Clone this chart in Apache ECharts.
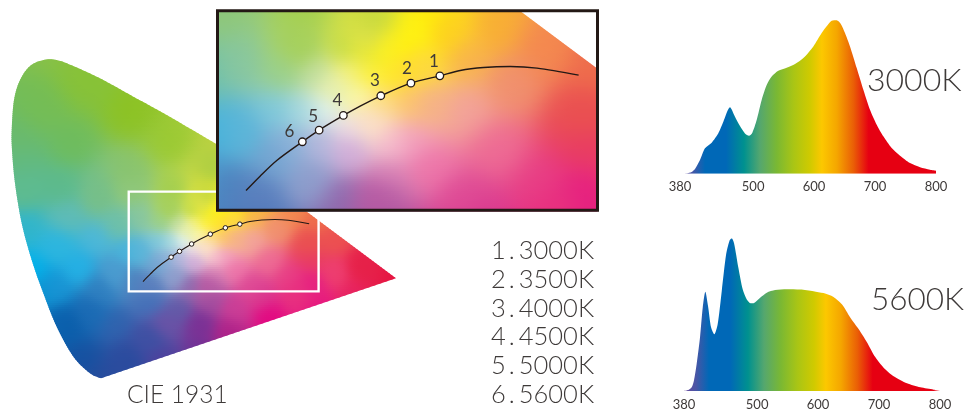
<!DOCTYPE html>
<html><head><meta charset="utf-8">
<style>html,body{margin:0;padding:0;background:#fff}#c{width:977px;height:411px}</style>
<script src="https://cdn.jsdelivr.net/npm/echarts@6/dist/echarts.min.js"></script>
</head><body><div id="c"></div>
<script>
// CIE 1931 gamut boundary (chromaticity x, y)
const gamutX=[.1718,.1508,.1190,.0871,.0617,.0394,.0204,.0076,.0019,.0013,.0057,.0172,.0363,.0617,.0871,.1190,.1698,.2335,.2971,.3893,.7347];
const gamutY=[.0069,.0198,.0627,.1400,.2259,.3119,.4064,.5095,.5954,.6469,.7242,.7758,.8119,.8273,.8273,.8119,.7801,.7328,.6856,.6125,.2646];
// Planckian curve
const curveX=[.2519,.2653,.2812,.3056,.3216,.3448,.3607,.3804,.4090,.4367,.4561,.4784,.5038,.5293,.5690];
const curveY=[.2564,.2749,.2951,.3192,.3342,.3531,.3651,.3784,.3948,.4042,.4111,.4149,.4162,.4141,.4051];
// CCT markers
const cctX=[.4367,.4091,.3804,.3447,.3216,.3056];
const cctY=[.4042,.3947,.3785,.3531,.3341,.3192];
const cctNames=['1','2','3','4','5','6'];
const cctLabelOffsets=[[-6,-14],[-4,-15],[-6,-15],[-6,-15],[-6,-14],[-13,-10]];
const cctLegend=[['1','3000K'],['2','3500K'],['3','4000K'],['4','4500K'],['5','5000K'],['6','5600K']];
// zoom window in chromaticity
const windowX=[.2247,.587];
const windowY=[.231,.488];
// spectra
const specTicks=[380,500,600,700,800];
const warmNm=[380,390.9,399.1,404.6,412.8,421,432,442.9,451.1,462,470.2,478.4,486.6,493.2,498.7,505.8,514,522.2,530.4,541.3,555,568.7,582.4,598.8,612.4,620.6,628.8,637,643.6,650.7,658.9,669.9,680.8,691.7,702.7,713.6,727.3,741,757.4,773.8,790.2,800];
const warmVal=[0,.2,1.1,3,8.9,16.5,20.2,26.3,33.8,43.2,37.1,31,26.2,24.7,26.7,34.9,48,57.7,63.2,66.9,68.9,71.3,75.2,82.8,91.5,95.9,99.5,99.8,97.6,91.5,82.8,68.7,54.6,41.6,31.9,24.3,16.7,11.7,6.9,4.2,2.6,2];
const coolNm=[380,387.1,392.6,396.4,400.8,406.3,410.7,415,419.4,424.4,429.8,435.3,441.9,449,454.5,458.3,462.1,469.3,476.4,483,489.5,495,504.9,515.8,529.5,548.7,570.6,592.5,608.9,625.3,639,652.7,666.4,680.1,693.8,707.5,723.9,745.8,767.7,789.6,800];
const coolVal=[0,.6,2.4,7.1,17.9,35.2,54.6,65,55.7,41.7,37.1,43.8,65.4,89.2,98.3,100,96.8,80.6,66.5,60,57.5,57.7,61.1,64.4,66.1,66.7,66.5,65.4,64.1,61.6,56.8,48.2,40.6,32,22.2,15.3,9.7,5,2.4,.9,.6];
const spectrumStops=[[0,'#6a4a9e'],[.046,'#4a55a5'],[.098,'#0068b7'],[.18,'#0068b7'],[.25,'#00918f'],[.313,'#55a76e'],[.378,'#7ab833'],[.443,'#a9c515'],[.508,'#d0ca00'],[.554,'#fcc800'],[.613,'#f5a600'],[.678,'#ea5e06'],[.737,'#e60012'],[1,'#e60012']];
// colours at chromaticity positions
const colourAnchors=[
[.074,.827,'#8fc24a'],[.227,.673,'#8cc21f'],[.132,.763,'#88c235'],[.055,.698,'#74bd55'],[.013,.621,'#6aba6c'],[.113,.595,'#6ebc5a'],[.303,.595,'#98c92f'],[.389,.531,'#a8cc45'],[.227,.518,'#86c26a'],[.094,.492,'#5cba8a'],[.027,.492,'#5ebb8f'],[.230,.485,'#90c87a'],[.313,.477,'#a0cd4a'],[.376,.469,'#c5d83e'],[.427,.472,'#fff000'],[.414,.459,'#fff212'],[.489,.464,'#f8ae33'],[.536,.438,'#f4884f'],[.584,.412,'#ee6d4b'],[.250,.418,'#87c6a0'],[.227,.330,'#43b4dd'],[.408,.418,'#ffdb33'],[.456,.430,'#f8b04f'],[.504,.399,'#f08f70'],[.574,.353,'#ea5050'],[.576,.314,'#e83b62'],[.456,.366,'#f2a0a0'],[.424,.374,'#f4ae8d'],[.250,.330,'#5ab5d9'],[.281,.302,'#6ea2d0'],[.237,.263,'#4c80bd'],[.265,.250,'#5a7ebd'],[.313,.276,'#8d9dcc'],[.345,.250,'#8c68ad'],[.384,.276,'#d77fb5'],[.376,.245,'#b65aa3'],[.424,.289,'#ee72a8'],[.489,.309,'#ee6a95'],[.456,.245,'#df4a95'],[.536,.263,'#e84287'],[.574,.245,'#e6207f'],[.042,.278,'#00b4ec'],[.088,.345,'#2cb6e0'],[.031,.397,'#2fb5cc'],[.107,.423,'#60bcb8'],[.170,.363,'#4ab8dc'],[.170,.474,'#76bf88'],[.061,.227,'#0a90d0'],[.107,.149,'#0a5aa8'],[.137,.062,'#1450a0'],[.170,.021,'#2a4a9a'],[.170,.235,'#2f7fc0'],[.202,.278,'#4a9cd0'],[.202,.149,'#2f62ae'],[.265,.106,'#3d50a3'],[.298,.149,'#6a52a6'],[.361,.149,'#7a3095'],[.284,.062,'#4f3f9c'],[.412,.131,'#b02088'],[.424,.191,'#cc3d96'],[.489,.175,'#e4007f'],[.584,.201,'#e60f80'],[.615,.278,'#ee3f70'],[.710,.268,'#e60f3c'],[.666,.294,'#e62048'],[.615,.363,'#ec5050'],
[.017,.557,'#62b97e'],[.208,.402,'#6dc0a8'],[.132,.286,'#23b2e6'],[.084,.235,'#1a95d5'],[.151,.183,'#1a6ab4'],[.094,.157,'#0a62ae'],[.265,.209,'#3f6eb8'],[.323,.183,'#5f5aa8'],[.380,.209,'#a04a9e'],[.227,.054,'#2a4b9e'],[.361,.093,'#6d2f94'],[.475,.222,'#d9398f'],[.552,.235,'#e8307f'],[.647,.235,'#e7205f'],
[.396,.438,'#fdee2a'],[.370,.447,'#d4de50'],[.440,.460,'#fdd020'],[.415,.417,'#fdd942'],
[.307,.438,'#a5d05a'],[.291,.408,'#98cf88'],[.347,.438,'#c5dc48'],[.364,.438,'#e8e838'],[.380,.438,'#faf020'],[.402,.438,'#fff200'],[.351,.408,'#f5f17a'],[.370,.408,'#fff13a'],[.396,.408,'#ffe828'],[.322,.408,'#c0dda0'],[.338,.391,'#e8f0b0'],[.357,.378,'#fbf7a8'],[.380,.369,'#fddb85'],[.408,.378,'#fcc36e'],[.329,.361,'#dff2f0'],[.307,.356,'#a5d8e0'],[.284,.356,'#7ac8dc'],[.351,.335,'#f0e3e8'],[.370,.343,'#fbe0c8'],[.408,.322,'#f29bbf'],[.386,.322,'#f6bcd0'],[.351,.314,'#cfa8d8'],[.322,.318,'#b2b5dc'],[.294,.314,'#8bb0d8']
];
const ink='#3e3a39', dark='#231815';
const FONT='Lato';

const parsed=colourAnchors.map(a=>({x:a[0]*524,y:a[1]*388,r:parseInt(a[2].slice(1,3),16),g:parseInt(a[2].slice(3,5),16),b:parseInt(a[2].slice(5,7),16)}));
parsed.forEach(a=>{
  const ds=parsed.map(o=>(o.x-a.x)**2+(o.y-a.y)**2).sort((m,n)=>m-n);
  a.soft=.35*ds[3]+20;
});
// colour field sampled on a lattice, softened, then read bilinearly
const latStep=2,latW=200,latH=172;
const lat=[new Float32Array(latW*latH),new Float32Array(latW*latH),new Float32Array(latW*latH)];
for(let j=0;j<latH;j++)for(let i=0;i<latW;i++){
  const px=i*latStep,py=j*latStep;let W=0,r=0,g=0,b=0;
  for(const a of parsed){
    const d=(px-a.x)**2+(py-a.y)**2+a.soft;
    const w=1/(d*d*d);
    W+=w;r+=w*a.r;g+=w*a.g;b+=w*a.b;
  }
  const k=j*latW+i;lat[0][k]=r/W;lat[1][k]=g/W;lat[2][k]=b/W;
}
function boxPass(arr,stepA,stepB,nA,nB,rad){
  const tmp=new Float32Array(nA);
  for(let b=0;b<nB;b++){
    for(let a=0;a<nA;a++){
      let s=0,c=0;
      for(let q=Math.max(0,a-rad);q<=Math.min(nA-1,a+rad);q++){s+=arr[b*stepB+q*stepA];c++;}
      tmp[a]=s/c;
    }
    for(let a=0;a<nA;a++)arr[b*stepB+a*stepA]=tmp[a];
  }
}
lat.forEach(arr=>{for(let p=0;p<3;p++){boxPass(arr,1,latW,latW,latH,1);boxPass(arr,latW,1,latH,latW,1);}});
function colourAt(x,y){
  const u=Math.min(latW-1.001,Math.max(0,x*524/latStep)),v=Math.min(latH-1.001,Math.max(0,y*388/latStep));
  const i=Math.floor(u),j=Math.floor(v),fu=u-i,fv=v-j;
  const c=lat.map(L=>Math.round((L[j*latW+i]*(1-fu)+L[j*latW+i+1]*fu)*(1-fv)+(L[(j+1)*latW+i]*(1-fu)+L[(j+1)*latW+i+1]*fu)*fv));
  return 'rgb('+c[0]+','+c[1]+','+c[2]+')';
}
// outline: rounded spectral edge, straight purple and green-red edges
function outlinePath(){
  const pts=gamutX.map((x,i)=>[x,gamutY[i]]),out=[];
  const n=pts.length-1;
  for(let i=0;i<n-1;i++){
    const p0=pts[Math.max(0,i-1)],p1=pts[i],p2=pts[i+1],p3=pts[Math.min(n-1,i+2)];
    for(let s=0;s<8;s++){
      const t=s/8,t2=t*t,t3=t2*t;
      out.push([0,1].map(k=>.5*(2*p1[k]+(p2[k]-p0[k])*t+(2*p0[k]-5*p1[k]+4*p2[k]-p3[k])*t2+(3*p1[k]-p0[k]-3*p2[k]+p3[k])*t3)));
    }
  }
  out.push(pts[n-1],pts[n]);
  return out;
}
const outline=outlinePath();
function fieldItem(xr,yr,colStep,rowStep){
  return function(params,api){
    const tl=api.coord([xr[0],yr[1]]),br=api.coord([xr[1],yr[0]]);
    const kids=[];
    const cols=Math.max(2,Math.round((br[0]-tl[0])/colStep));
    for(let py=tl[1];py<br[1];py+=rowStep){
      const cy=yr[1]+(py+rowStep/2-tl[1])/(br[1]-tl[1])*(yr[0]-yr[1]);
      const stops=[];
      for(let c=0;c<=cols;c++){
        const f=c/cols;
        stops.push({offset:f,color:colourAt(xr[0]+f*(xr[1]-xr[0]),cy)});
      }
      kids.push({type:'rect',silent:true,shape:{x:tl[0],y:py,width:br[0]-tl[0],height:rowStep+.6},
        style:{fill:new echarts.graphic.LinearGradient(0,0,1,0,stops)}});
    }
    return {type:'group',silent:true,clipPath:{type:'polygon',shape:{points:outline.map(p=>api.coord(p))}},children:kids};
  };
}
function frameItem(style){
  return function(params,api){
    const a=api.coord([windowX[0],windowY[1]]),b=api.coord([windowX[1],windowY[0]]);
    return {type:'rect',silent:true,shape:{x:a[0],y:a[1],width:b[0]-a[0],height:b[1]-a[1]},style};
  };
}
function hiddenAxes(gridIndex,xr,yr){
  return [{type:'value',gridIndex,min:xr[0],max:xr[1],show:false},{type:'value',gridIndex,min:yr[0],max:yr[1],show:false}];
}
const insetAxes=hiddenAxes(1,windowX,windowY);
const mainAxes=hiddenAxes(0,[0,.8],[0,.9]);
const specXAxis=g=>({type:'value',gridIndex:g,min:380,max:800,splitLine:{show:false},axisLine:{show:false},axisTick:{show:false},
  axisLabel:{show:true,customValues:specTicks,margin:7,color:ink,fontFamily:FONT,fontSize:13,hideOverlap:false}});
const specYAxis=g=>({type:'value',gridIndex:g,min:0,max:100,show:false});
const pairs=(a,b)=>a.map((v,i)=>[v,b[i]]);
const specFill=new echarts.graphic.LinearGradient(0,0,1,0,spectrumStops.map(s=>({offset:s[0],color:s[1]})));
function specSeries(g,nm,val){
  return {type:'line',xAxisIndex:g,yAxisIndex:g,data:pairs(nm,val),smooth:.25,symbol:'none',silent:true,
    lineStyle:{width:0},areaStyle:{color:specFill,opacity:1},z:3};
}
const curveData=pairs(curveX,curveY);
function lineOn(i,z,w){return {type:'line',xAxisIndex:i,yAxisIndex:i,data:curveData,smooth:.3,symbol:'none',silent:true,lineStyle:{color:dark,width:w},z};}
function ptsOn(i,z,size,lw,labelled){
  return {type:'scatter',xAxisIndex:i,yAxisIndex:i,symbolSize:size,silent:true,z,itemStyle:{color:'#fff',borderColor:dark,borderWidth:lw,opacity:1},
    data:cctX.map((x,k)=>({value:[x,cctY[k]],name:cctNames[k],label:labelled?{show:true,formatter:cctNames[k],position:'inside',offset:cctLabelOffsets[k],color:ink,fontFamily:FONT,fontSize:17}:{show:false}}))};
}
function bigText(text,x,y,size){
  return {type:'text',silent:true,z:20,x,y,style:{text,x:0,y:0,fill:ink,fontFamily:FONT,fontWeight:300,fontSize:size,textVerticalAlign:'middle'}};
}
const listRows=[251,280,308.5,337,365.5,395];
const richBase={fill:ink,color:ink,fontFamily:FONT,fontWeight:300,fontSize:25.5};
const listEls=cctLegend.map((r,i)=>({type:'text',silent:true,z:20,x:491,y:listRows[i],style:{
  text:'{a|'+r[0]+'}{b|.}{c|'+r[1]+'}',verticalAlign:'middle',
  rich:{a:{...richBase,padding:[0,3,0,0]},b:{...richBase,padding:[0,4,0,0]},c:{...richBase}}}}));

const option={
  animation:false,backgroundColor:'#fff',
  grid:[
    {left:11,top:31.8,width:419.2,height:349.2},
    {left:217.5,top:10.8,width:380,height:199.4},
    {left:680,top:20,width:256,height:153.7},
    {left:684,top:238.3,width:256,height:154.4}
  ],
  xAxis:[mainAxes[0],insetAxes[0],specXAxis(2),specXAxis(3)],
  yAxis:[mainAxes[1],insetAxes[1],specYAxis(2),specYAxis(3)],
  series:[
    {type:'custom',xAxisIndex:0,yAxisIndex:0,data:[[.4,.4]],encode:{x:0,y:1},z:1,silent:true,renderItem:fieldItem([0,.74],[0,.84],4,2)},
    lineOn(0,2,1.1),
    ptsOn(0,3,4.5,1,false),
    {type:'custom',xAxisIndex:0,yAxisIndex:0,data:[[.4,.4]],encode:{x:0,y:1},z:3,silent:true,renderItem:frameItem({fill:'none',stroke:'#fff',lineWidth:2.4})},
    {type:'custom',xAxisIndex:1,yAxisIndex:1,data:[[.4,.4]],encode:{x:0,y:1},z:4,silent:true,renderItem:frameItem({fill:'#fff'})},
    {type:'custom',xAxisIndex:1,yAxisIndex:1,data:[[.4,.4]],encode:{x:0,y:1},z:5,silent:true,renderItem:fieldItem(windowX,windowY,6,2)},
    lineOn(1,6,1.4),
    ptsOn(1,7,7.5,1.3,true),
    {type:'custom',xAxisIndex:1,yAxisIndex:1,data:[[.4,.4]],encode:{x:0,y:1},z:8,silent:true,renderItem:frameItem({fill:'none',stroke:dark,lineWidth:3})},
    specSeries(2,warmNm,warmVal),
    specSeries(3,coolNm,coolVal)
  ],
  graphic:[
    bigText('CIE 1931',127,395,24.5),
    bigText('3000K',867,81,32),
    bigText('5600K',871,300,31.5),
    ...listEls
  ]
};
echarts.init(document.getElementById('c'),null,{renderer:'canvas'}).setOption(option);
</script></body></html>
